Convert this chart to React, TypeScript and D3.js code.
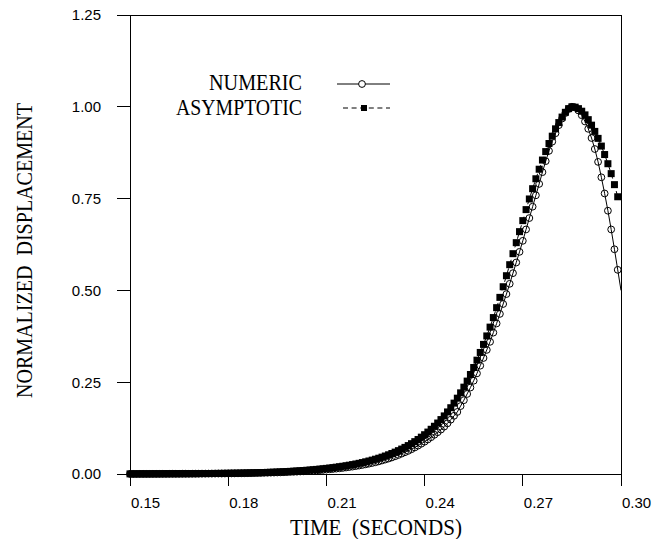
import React from 'react';
import * as d3 from 'd3';

// Sampling grid of the time axis (seconds)
const T_START = 0.15;
const T_STEP = 0.001;

// NUMERIC series, t = 0.150 ... 0.300
const numeric = [
  0.0002, 0.0002, 0.0002, 0.0003, 0.0003, 0.0003, 0.0003, 0.0004, 0.0004, 0.0004,
  0.0005, 0.0005, 0.0005, 0.0006, 0.0006, 0.0006, 0.0007, 0.0007, 0.0007, 0.0008,
  0.0008, 0.0009, 0.0010, 0.0010, 0.0011, 0.0011, 0.0012, 0.0013, 0.0013, 0.0014,
  0.0015, 0.0016, 0.0017, 0.0018, 0.0019, 0.0021, 0.0022, 0.0024, 0.0026, 0.0028,
  0.0030, 0.0032, 0.0034, 0.0037, 0.0039, 0.0042, 0.0045, 0.0048, 0.0052, 0.0056,
  0.0060, 0.0064, 0.0069, 0.0074, 0.0079, 0.0085, 0.0091, 0.0098, 0.0105, 0.0112,
  0.0120, 0.0128, 0.0137, 0.0146, 0.0155, 0.0165, 0.0177, 0.0189, 0.0202, 0.0216,
  0.0230, 0.0246, 0.0263, 0.0281, 0.0300, 0.0320, 0.0343, 0.0368, 0.0394, 0.0421,
  0.0450, 0.0483, 0.0518, 0.0555, 0.0593, 0.0630, 0.0675, 0.0722, 0.0772, 0.0825,
  0.0880, 0.0940, 0.1003, 0.1068, 0.1137, 0.1210, 0.1290, 0.1380, 0.1480, 0.1585,
  0.1690, 0.1850, 0.2010, 0.2180, 0.2355, 0.2540, 0.2740, 0.2950, 0.3160, 0.3380,
  0.3600, 0.3850, 0.4100, 0.4360, 0.4630, 0.4900, 0.5180, 0.5470, 0.5760, 0.6050,
  0.6350, 0.6660, 0.6970, 0.7280, 0.7590, 0.7900, 0.8220, 0.8520, 0.8800, 0.9050,
  0.9280, 0.9500, 0.9680, 0.9830, 0.9940, 1.0000, 0.9980, 0.9900, 0.9770, 0.9600,
  0.9400, 0.9150, 0.8850, 0.8500, 0.8080, 0.7640, 0.7170, 0.6660, 0.6120, 0.5560,
  0.5000,
];

// ASYMPTOTIC series, t = 0.150 ... 0.299
const asymptotic = [
  0.0003, 0.0003, 0.0003, 0.0004, 0.0004, 0.0004, 0.0004, 0.0005, 0.0005, 0.0005,
  0.0006, 0.0006, 0.0007, 0.0007, 0.0007, 0.0008, 0.0008, 0.0009, 0.0009, 0.0010,
  0.0010, 0.0011, 0.0012, 0.0013, 0.0013, 0.0014, 0.0015, 0.0016, 0.0017, 0.0018,
  0.0020, 0.0021, 0.0022, 0.0024, 0.0025, 0.0027, 0.0029, 0.0031, 0.0033, 0.0035,
  0.0038, 0.0041, 0.0044, 0.0047, 0.0050, 0.0054, 0.0058, 0.0062, 0.0067, 0.0072,
  0.0077, 0.0083, 0.0089, 0.0095, 0.0102, 0.0109, 0.0117, 0.0125, 0.0134, 0.0143,
  0.0153, 0.0163, 0.0174, 0.0186, 0.0198, 0.0211, 0.0225, 0.0240, 0.0256, 0.0273,
  0.0291, 0.0311, 0.0332, 0.0354, 0.0378, 0.0403, 0.0430, 0.0459, 0.0490, 0.0523,
  0.0558, 0.0596, 0.0636, 0.0679, 0.0725, 0.0774, 0.0826, 0.0881, 0.0940, 0.1003,
  0.1070, 0.1142, 0.1218, 0.1300, 0.1388, 0.1482, 0.1582, 0.1690, 0.1805, 0.1930,
  0.2065, 0.2210, 0.2365, 0.2530, 0.2710, 0.2900, 0.3100, 0.3310, 0.3530, 0.3760,
  0.4000, 0.4260, 0.4530, 0.4810, 0.5100, 0.5400, 0.5700, 0.6000, 0.6300, 0.6600,
  0.6900, 0.7200, 0.7490, 0.7770, 0.8040, 0.8300, 0.8550, 0.8780, 0.9000, 0.9200,
  0.9400, 0.9570, 0.9720, 0.9850, 0.9950, 1.0000, 0.9990, 0.9950, 0.9880, 0.9780,
  0.9650, 0.9500, 0.9330, 0.9140, 0.8930, 0.8700, 0.8450, 0.8180, 0.7880, 0.7550,
];

const xTickValues = [0.15, 0.18, 0.21, 0.24, 0.27, 0.3];
const xTickLabels = ['0.15', '0.18', '0.21', '0.24', '0.27', '0.30'];
const yTickValues = [0, 0.25, 0.5, 0.75, 1.0, 1.25];
const yTickLabels = ['0.00', '0.25', '0.50', '0.75', '1.00', '1.25'];
const seriesNames = ['NUMERIC', 'ASYMPTOTIC'];
const xTitle = 'TIME  (SECONDS)';
const yTitle = 'NORMALIZED  DISPLACEMENT';

const SERIF = "'Liberation Serif', 'Times New Roman', serif";
const SANS = "'Liberation Sans', Arial, sans-serif";

type Pt = { t: number; v: number };

export default function App() {
  const x = d3.scaleLinear().domain([0.15, 0.3]).range([130, 621]);
  const y = d3.scaleLinear().domain([0, 1.25]).range([474, 15]);

  const numPts: Pt[] = numeric.map((v, i) => ({ t: T_START + i * T_STEP, v }));
  const asyPts: Pt[] = asymptotic.map((v, i) => ({ t: T_START + i * T_STEP, v }));

  const line = d3
    .line<Pt>()
    .x((d) => x(d.t))
    .y((d) => y(d.v));

  const numMarkers = numPts.slice(0, numPts.length - 1);
  const sq = 7;
  const r = 3.4;

  const x0 = x(0.15);
  const x1 = x(0.3);
  const yb = y(0);
  const yt = y(1.25);

  return (
    <svg
      width={667}
      height={539}
      style={{ position: 'absolute', left: 0, top: 0, background: '#fff' }}
    >
      <rect x={0} y={0} width={667} height={539} fill="#fff" />
      {/* frame */}
      <g stroke="#000" strokeWidth={1} fill="none" shapeRendering="crispEdges">
        <line x1={x0} y1={yt} x2={x1} y2={yt} />
        <line x1={x0} y1={yt} x2={x0} y2={yb} />
        <line x1={x1} y1={yt} x2={x1} y2={yb} />
        <line x1={x0} y1={yb} x2={x1} y2={yb} />
        {yTickValues.map((v) => (
          <line key={'yt' + v} x1={x0 - 13} x2={x0} y1={y(v)} y2={y(v)} />
        ))}
        {xTickValues.map((v) => (
          <line key={'xt' + v} x1={x(v)} x2={x(v)} y1={yb} y2={yb + 12} />
        ))}
      </g>
      {/* tick labels */}
      <g fontFamily={SANS} fontSize={15} fill="#000">
        {yTickValues.map((v, i) => (
          <text key={'yl' + v} x={101} y={y(v)} dy="0.36em" textAnchor="end">
            {yTickLabels[i]}
          </text>
        ))}
        {xTickValues.map((v, i) => (
          <text key={'xl' + v} x={x(v) + 1} y={503} dy="0.36em" textAnchor="start">
            {xTickLabels[i]}
          </text>
        ))}
      </g>
      {/* axis titles */}
      <text
        x={290}
        y={535}
        fontFamily={SERIF}
        fontSize={23}
        textLength={172}
        lengthAdjust="spacingAndGlyphs"
        style={{ whiteSpace: 'pre' }}
      >
        {xTitle}
      </text>
      <text
        transform="translate(32,398) rotate(-90)"
        x={0}
        y={0}
        fontFamily={SERIF}
        fontSize={23}
        textLength={295}
        lengthAdjust="spacingAndGlyphs"
        style={{ whiteSpace: 'pre' }}
      >
        {yTitle}
      </text>

      {/* asymptotic series */}
      <path d={line(asyPts) || ''} fill="none" stroke="#000" strokeWidth={1} strokeDasharray="5,4" />
      <g fill="#000">
        {asyPts.map((d, i) => (
          <rect key={'s' + i} x={x(d.t) - sq / 2} y={y(d.v) - sq / 2} width={sq} height={sq} />
        ))}
      </g>
      {/* numeric series */}
      <g fill="none" stroke="#000" strokeWidth={1}>
        {numMarkers.map((d, i) => (
          <circle key={'c' + i} cx={x(d.t)} cy={y(d.v)} r={r} />
        ))}
      </g>
      <path d={line(numPts) || ''} fill="none" stroke="#000" strokeWidth={1} />

      {/* legend */}
      <g fontFamily={SERIF} fontSize={23} fill="#000">
        <text x={302} y={90} textAnchor="end" textLength={93} lengthAdjust="spacingAndGlyphs">
          {seriesNames[0]}
        </text>
        <text x={302} y={115} textAnchor="end" textLength={126} lengthAdjust="spacingAndGlyphs">
          {seriesNames[1]}
        </text>
      </g>
      <line x1={337} x2={390} y1={84} y2={84} stroke="#000" strokeWidth={1} />
      <circle cx={362} cy={84} r={r} fill="#fff" stroke="#000" strokeWidth={1} />
      <line x1={343} x2={390} y1={108} y2={108} stroke="#000" strokeWidth={1} strokeDasharray="5,3.6" />
      <rect x={364 - 3} y={108 - 3} width={6} height={6} fill="#000" />
    </svg>
  );
}
